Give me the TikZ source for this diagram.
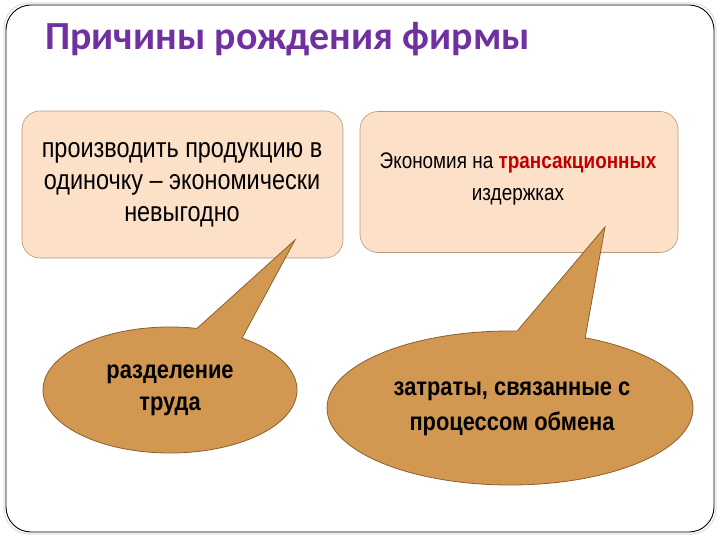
\documentclass[tikz,border=0pt]{standalone}
\usepackage{fontspec}
\setmainfont{Liberation Sans}
\newfontfamily\titlef{Carlito}
\newfontfamily\narrowf[FakeStretch=0.84]{Liberation Sans}
\newfontfamily\heavyf[FakeStretch=0.86]{Liberation Sans}
\usetikzlibrary{shapes.geometric,calc}
\definecolor{titlepurple}{RGB}{112,48,160}
\definecolor{peach}{RGB}{252,224,200}
\definecolor{peachedge}{RGB}{185,150,125}
\definecolor{tailfill}{RGB}{210,152,82}
\definecolor{tailedge}{RGB}{140,95,45}
\definecolor{darkred}{RGB}{192,0,0}
\tikzset{
  box/.style={draw=peachedge, fill=peach, rounded corners=18bp, line width=0.6bp},
  bubble/.style={ellipse, draw=tailedge, fill=tailfill, line width=0.8bp},
  txt/.style={align=center, text=black, inner sep=0pt},
}
\begin{document}
\begin{tikzpicture}[x=1bp,y=-1bp]
\useasboundingbox (0,0) rectangle (720,540);
% outer frame
\draw[black!12, line width=1.2bp, rounded corners=25bp] (4,3) rectangle (716,534);
\draw[black, line width=0.9bp, rounded corners=25bp] (6,5) rectangle (714,532);
% title
\node[anchor=base west, inner sep=0pt, text=titlepurple, font=\titlef\bfseries\fontsize{40}{46}\selectfont] (title) at (45,50) {Причины рождения фирмы};
% boxes
\node[box, minimum width=321bp, minimum height=147bp] (lbox) at (182.5,184.5) {};
\node[box, minimum width=318bp, minimum height=141bp] (rbox) at (519,182) {};
\node[txt, font=\narrowf\fontsize{28}{32}\selectfont] (ltext) at (182,185) {производить продукцию в\\одиночку – экономически\\невыгодно};
\node[txt, font=\narrowf\fontsize{22.6}{32}\selectfont] (rtext) at (518,179) {Экономия на \textcolor{darkred}{\bfseries трансакционных}\\издержках};
% left bubble
\node[bubble, minimum width=254bp, minimum height=126bp] (lb) at (170,390) {};
\coordinate (la) at (295,240);
\coordinate (l1) at (197,328.4);
\coordinate (l2) at (242,338.1);
\fill[tailfill] (la) -- ($(la)!1.08!(l1)$) -- ($(la)!1.08!(l2)$) -- cycle;
\draw[tailedge, line width=0.8bp, line join=miter] (l1) -- (la) -- (l2);
\node[txt, font=\heavyf\bfseries\fontsize{25.5}{32}\selectfont] (ltxt) at (170,390) {разделение\\труда};
% right bubble
\node[bubble, minimum width=366bp, minimum height=154bp] (rb) at (510,408) {};
\coordinate (ra) at (605,227);
\coordinate (r1) at (517,331.2);
\coordinate (r2) at (585,338.8);
\fill[tailfill] (ra) -- ($(ra)!1.08!(r1)$) -- ($(ra)!1.08!(r2)$) -- cycle;
\draw[tailedge, line width=0.8bp, line join=miter] (r1) -- (ra) -- (r2);
\node[txt, font=\heavyf\bfseries\fontsize{25.5}{35}\selectfont] (rtxt) at (512,409) {затраты, связанные с\\процессом обмена};
\end{tikzpicture}
\end{document}
